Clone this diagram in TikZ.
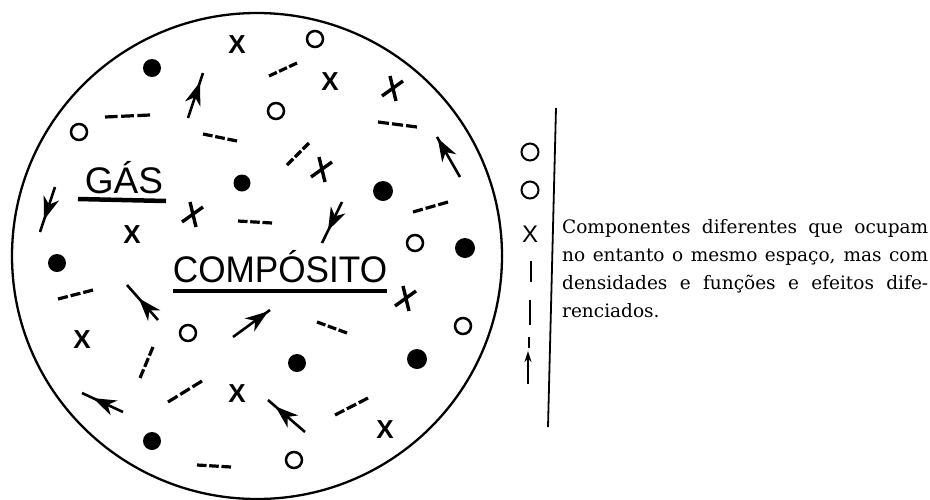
\documentclass[tikz,border=0pt]{standalone}
\usepackage{fontspec}
\setmainfont{DejaVu Serif}
\newfontfamily\letterfont{Liberation Sans}
\usetikzlibrary{arrows.meta,decorations.markings,calc}
\tikzset{
  outline/.style={line width=2.3pt},
  hollow/.style={circle,draw,line width=2.5pt,minimum size=16pt,inner sep=0pt},
  solid dot/.style={circle,fill,inner sep=0pt,minimum size=#1},
  dashline/.style={line width=3.2pt},
  crossline/.style={line width=3.4pt},
  moveline/.style={line width=2.6pt},
  midarr/.style={moveline,postaction={decorate},decoration={markings,
     mark=at position #1 with {\arrow{Stealth[length=23pt,width=16pt,inset=7pt]}}}},
  xmark/.style={inner sep=0pt,font=\letterfont\bfseries\fontsize{26}{26}\selectfont},
  tcross/.pic={\draw[crossline] (-3,-12) -- (3,13) (-11,8) -- (10,-7);},
}
\newcommand\tridash[2]{\draw[dashline] ($#1!0!#2$) -- ($#1!.28!#2$) ($#1!.36!#2$) -- ($#1!.64!#2$) ($#1!.72!#2$) -- ($#1!1!#2$);}
\begin{document}
\begin{tikzpicture}[x=1pt,y=-1pt]
\useasboundingbox (0,0) rectangle (930,499);
% big circle
\draw[outline] (257,256) ellipse [x radius=245, y radius=243];
% hollow circles
\node[hollow] (o1) at (315,39) {};
\node[hollow] (o2) at (276,111) {};
\node[hollow] (o3) at (79,132) {};
\node[hollow] (o4) at (415,243) {};
\node[hollow] (o5) at (188,333) {};
\node[hollow] (o6) at (463,326) {};
\node[hollow] (o7) at (294,460) {};
% solid dots
\node[solid dot=18pt] (d1) at (152,68) {};
\node[solid dot=17pt] (d2) at (242,183) {};
\node[solid dot=20pt] (d3) at (383,191) {};
\node[solid dot=20pt] (d4) at (465,248) {};
\node[solid dot=18pt] (d5) at (57,263) {};
\node[solid dot=18pt] (d6) at (297,363) {};
\node[solid dot=20pt] (d7) at (417,359) {};
\node[solid dot=18pt] (d8) at (152,441) {};
% upright X marks
\node[xmark] (x1) at (237,45) {X};
\node[xmark] (x2) at (330,82) {X};
\node[xmark] (x3) at (132,235) {X};
\node[xmark] (x4) at (82,340) {X};
\node[xmark] (x5) at (237,394) {X};
\node[xmark] (x6) at (385,430) {X};
% tilted crosses
\pic (c1) at (393,88) {tcross};
\pic (c2) at (322,169) {tcross};
\pic (c3) at (193,214) {tcross};
\pic (c4) at (406,298) {tcross};
% dashed strokes
\tridash{(269,76)}{(297,63)}
\tridash{(105,117)}{(150,115)}
\tridash{(378,122)}{(417,127)}
\tridash{(203,134)}{(237,141)}
\tridash{(287,165)}{(309,143)}
\tridash{(413,212)}{(448,202)}
\tridash{(238,221)}{(272,223)}
\tridash{(58,299)}{(93,290)}
\tridash{(317,322)}{(347,333)}
\tridash{(140,378)}{(153,347)}
\tridash{(168,402)}{(202,381)}
\tridash{(335,415)}{(368,398)}
\tridash{(197,465)}{(231,467)}
% moving particles (arrows)
\draw[midarr=0.8] (188,118) -- (203,73);
\draw[midarr=0.97] (460,177) -- (437,137);
\draw[midarr=0.73] (55,187) -- (40,232);
\draw[midarr=0.7] (342,202) -- (322,243);
\draw[midarr=0.62] (158,320) -- (127,285);
\draw[midarr=0.95] (233,337) -- (270,310);
\draw[midarr=0.73] (123,412) -- (82,393);
\draw[midarr=0.8] (305,432) -- (268,400);
% titles
\node[inner sep=0pt,anchor=base,font=\letterfont\fontsize{37}{37}\selectfont] (gas) at (124,193) {GÁS};
\draw[line width=4.5pt] (78,199) -- (166,201);
\node[inner sep=0pt,anchor=base,font=\letterfont\fontsize{37}{37}\selectfont] (comp) at (280,282) {\scalebox{0.95}[1]{COMPÓSITO}};
\draw[line width=3.2pt] (173,291) -- (387,291);
% legend
\node[circle,draw,line width=2pt,minimum size=17pt,inner sep=0pt] (lo1) at (530,152) {};
\node[circle,draw,line width=2pt,minimum size=17pt,inner sep=0pt] (lo2) at (530,190) {};
\node[inner sep=0pt,font=\letterfont\fontsize{24}{24}\selectfont] (lx) at (530,234) {X};
\draw[line width=2pt] (531,261) -- (531,282) (530,300) -- (530,325) (529,337) -- (529,348);
\coordinate (la1) at (528,384);
\coordinate (la2) at (528,351);
\draw[line width=1.8pt,-{Stealth[length=11pt,width=7pt]}] (la1) -- (la2);
\coordinate (v1) at (556,108);
\coordinate (v2) at (548,427);
\draw[line width=1.8pt] (v1) -- (v2);
\node[inner sep=0pt,anchor=base west] (txt) at (562,233) {\parbox[t]{366pt}{\fontsize{18.5}{28}\selectfont
Componentes diferentes que ocupam\linebreak
no entanto o mesmo espaço, mas com\linebreak
densidades e funções e efeitos dife-\linebreak
renciados.}};
\end{tikzpicture}
\end{document}
